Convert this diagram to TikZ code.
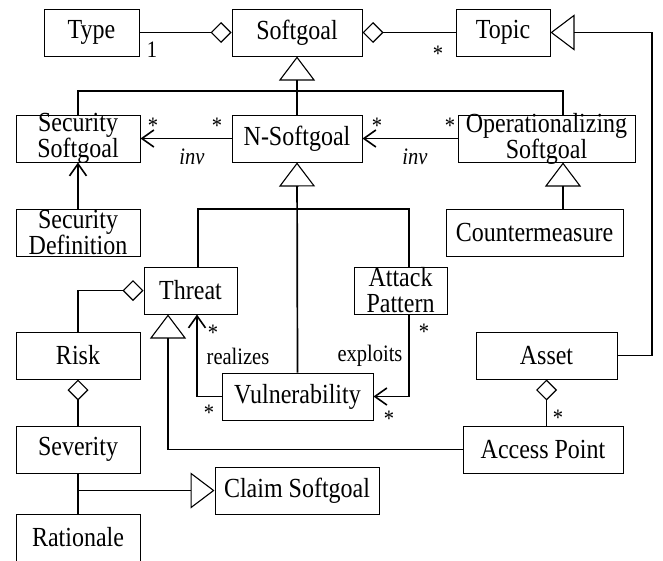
\documentclass[tikz,border=0pt]{standalone}
\usepackage{graphicx}
\usepackage{fontspec}
\setmainfont{Liberation Serif}
\usetikzlibrary{arrows.meta}

% Schrift leicht gestreckt wie in der Vorlage
\newcommand{\sx}[1]{\scalebox{1}[1.15]{#1}}

\tikzset{
  cls/.style={draw, line width=1pt, inner xsep=2pt, inner ysep=-3pt,
    minimum height=47pt, align=center, font=\fontsize{24}{26}\selectfont},
  lnk/.style={line width=1.7pt},
  gen/.style={lnk, -{Triangle[open, length=24pt, width=36pt, line width=1.1pt]}},
  agg/.style={lnk, -{Diamond[open, length=21pt, width=21pt, line width=1.1pt]}},
  nav/.style={lnk, -{Straight Barb[length=12pt, width=17pt, line width=1.6pt]}},
  lbl/.style={font=\fontsize{20.5}{22}\selectfont, inner sep=0pt},
}

\begin{document}
\begin{tikzpicture}[x=1pt, y=-1pt]
    \useasboundingbox (0,0) rectangle (663,560);

    % ===== 第一行 =====
    \node[cls, minimum width=95pt]  (type)  at (91.5,32.5) {\sx{Type}};
    \node[cls, minimum width=130pt] (soft)  at (297,32.5)  {\sx{Softgoal}};
    \node[cls, minimum width=94pt]  (topic) at (503,32.5)  {\sx{Topic}};

    % ===== 第二行 =====
    \node[cls, minimum width=124pt] (secsoft) at (78,138.5)    {\sx{Security}\\\sx{Softgoal}};
    \node[cls, minimum width=130pt] (nsoft)   at (297,138.5)   {\sx{N-Softgoal}};
    \node[cls, minimum width=177pt] (opsoft)  at (546.5,138.5) {\sx{Operationalizing}\\\sx{Softgoal}};

    % ===== 第三行 =====
    \node[cls, minimum width=124pt] (secdef)  at (78,232.5)    {\sx{Security}\\\sx{Definition}};
    \node[cls, minimum width=177pt] (counter) at (534.5,232.5) {\sx{Countermeasure}};
    \node[cls, minimum width=93pt]  (threat)  at (190.5,290.5) {\sx{Threat}};
    \node[cls, minimum width=93pt]  (attack)  at (400.5,290.5) {\sx{Attack}\\\sx{Pattern}};

    % ===== 下部 =====
    \node[cls, minimum width=124pt] (risk)      at (78,355.5)    {\sx{Risk}};
    \node[cls, minimum width=141pt] (asset)     at (546.5,355.5) {\sx{Asset}};
    \node[cls, minimum width=151pt] (vuln)      at (297.5,396.5) {\sx{Vulnerability}};
    \node[cls, minimum width=124pt] (severity)  at (78,449.5)    {\sx{Severity}};
    \node[cls, minimum width=160pt] (access)    at (543,449.5)   {\sx{Access Point}};
    \node[cls, minimum width=164pt] (claim)     at (297,490.5)   {\sx{Claim Softgoal}};
    \node[cls, minimum width=124pt] (rationale) at (78,537.5)    {\sx{Rationale}};

    % ===== 辅助点 =====
    \coordinate (busA) at (297,91);
    \coordinate (busB) at (297,209);
    \coordinate (opx)  at (563,0);
    \coordinate (rx)   at (652,0);

    % ===== 聚合 =====
    \draw[agg] (type.east) -- (soft.west);
    \draw[agg] (topic.west) -- (soft.east);
    \draw[agg] (risk.north) |- (threat.west);
    \draw[agg] (severity.north) -- (risk.south);
    \draw[agg] (access.north -| asset.south) -- (asset.south);

    % ===== 泛化 =====
    \draw[gen] (nsoft.north) -- (soft.south);
    \draw[lnk] (secsoft.north) |- (busA) -| (opsoft.north -| opx);
    \draw[gen] (counter.north -| opx) -- (opsoft.south -| opx);
    \draw[gen] (vuln.north) -- (nsoft.south);
    \draw[lnk] ([xshift=7.5pt]threat.north) |- (busB) -| ([xshift=8.5pt]attack.north);
    \draw[gen] (access.west) -| ([xshift=-22.5pt]threat.south);
    \draw[gen] (asset.east) -| (topic.east -| rx) -- (topic.east);
    \draw[lnk] (rationale.north) -- (severity.south);
    \draw[gen] (severity.south |- claim.west) -- (claim.west);

    % ===== 关联 =====
    \draw[nav] (nsoft.west) -- (secsoft.east);
    \draw[nav] (opsoft.west) -- (nsoft.east);
    \draw[nav] (secdef.north) -- (secsoft.south);
    \draw[nav] (vuln.west) -| ([xshift=6.5pt]threat.south);
    \draw[nav] ([xshift=8.5pt]attack.south) |- (vuln.east);

    % ===== 标注 =====
    \node[lbl] (m1) at (152,50)  {\sx{1}};
    \node[lbl] (m2) at (438,54)  {\sx{*}};
    \node[lbl] (m3) at (153,126) {\sx{*}};
    \node[lbl] (m4) at (217,126) {\sx{*}};
    \node[lbl] (m5) at (377,126) {\sx{*}};
    \node[lbl] (m6) at (450,126) {\sx{*}};
    \node[lbl] (inv1) at (192,157) {\sx{\itshape inv}};
    \node[lbl] (inv2) at (415,157) {\sx{\itshape inv}};
    \node[lbl] (m7) at (213,333) {\sx{*}};
    \node[lbl] (m8) at (209,413) {\sx{*}};
    \node[lbl] (m9) at (424,332) {\sx{*}};
    \node[lbl] (m10) at (389,419) {\sx{*}};
    \node[lbl] (m11) at (558,418) {\sx{*}};
    \node[lbl] (real) at (238,356) {\sx{realizes}};
    \node[lbl] (expl) at (370,356) {\sx{exploits}};

\end{tikzpicture}
\end{document}
